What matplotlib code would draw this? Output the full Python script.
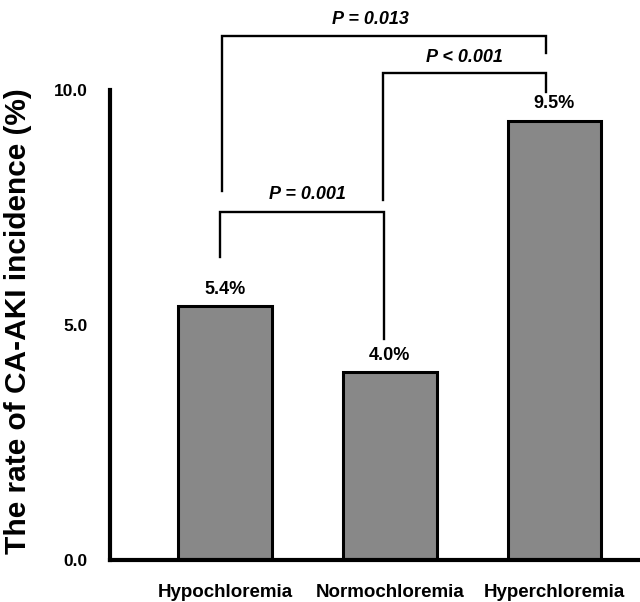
import matplotlib.pyplot as plt

plt.rcParams['font.family'] = ['Liberation Sans', 'DejaVu Sans']
plt.rcParams['font.weight'] = 'bold'

groups = ['Hypochloremia', 'Normochloremia', 'Hyperchloremia']
rates = [5.4, 4.0, 9.35]
rate_labels = ['5.4%', '4.0%', '9.5%']
yticks = [0.0, 5.0, 10.0]

# comparisons: (x left, x right, left leg bottom, top, right leg bottom, text, text x, text y)
comparisons = [
    (-0.02, 1.95, 7.85, 11.15, 10.79, 'P = 0.013', 0.88, 11.50),
    (0.96, 1.95, 7.66, 10.36, 9.96, 'P < 0.001', 1.455, 10.70),
    (-0.03, 0.965, 6.45, 7.40, 4.70, 'P = 0.001', 0.50, 7.77),
]

fig = plt.figure(figsize=(6.4, 6.02), dpi=100)
ax = fig.add_axes([110 / 640, 42 / 602, 530 / 640, 560 / 602])

x = range(len(groups))
ax.bar(x, rates, width=0.57, color='#888888', edgecolor='black', linewidth=2.2, zorder=2)
for xi, r, lab in zip(x, rates, rate_labels):
    ax.annotate(lab, (xi, r), xytext=(0, 6), textcoords='offset points',
                ha='center', va='bottom', fontsize=13, fontweight='bold')

for xl, xr, yl, yt, yr, txt, tx, ty in comparisons:
    ax.plot([xl, xl, xr, xr], [yl, yt, yt, yr], color='black', lw=1.7,
            solid_joinstyle='miter', clip_on=False)
    ax.text(tx, ty, txt, ha='center', va='center', fontsize=13,
            fontweight='bold', fontstyle='italic')

ax.set_xlim(-0.698, 2.519)
ax.set_ylim(0, 11.915)
ax.set_xticks(list(x))
ax.set_xticklabels(groups, fontsize=13.5, fontweight='bold')
ax.set_yticks(yticks)
ax.set_yticklabels([f'{t:.1f}' for t in yticks], fontsize=12.5, fontweight='bold')
ax.tick_params(axis='both', length=0)
ax.tick_params(axis='y', pad=16)
ax.tick_params(axis='x', pad=17)
ax.set_ylabel('The rate of CA-AKI incidence (%)', fontsize=21.5, fontweight='bold')
ax.yaxis.set_label_coords(-0.147, 0.427)

for s in ['top', 'right']:
    ax.spines[s].set_visible(False)
ax.spines['left'].set_bounds(0, 10)
ax.spines['left'].set_linewidth(3)
ax.spines['bottom'].set_linewidth(3)
ax.set_facecolor('none')

fig.savefig('out.png', dpi=100)
